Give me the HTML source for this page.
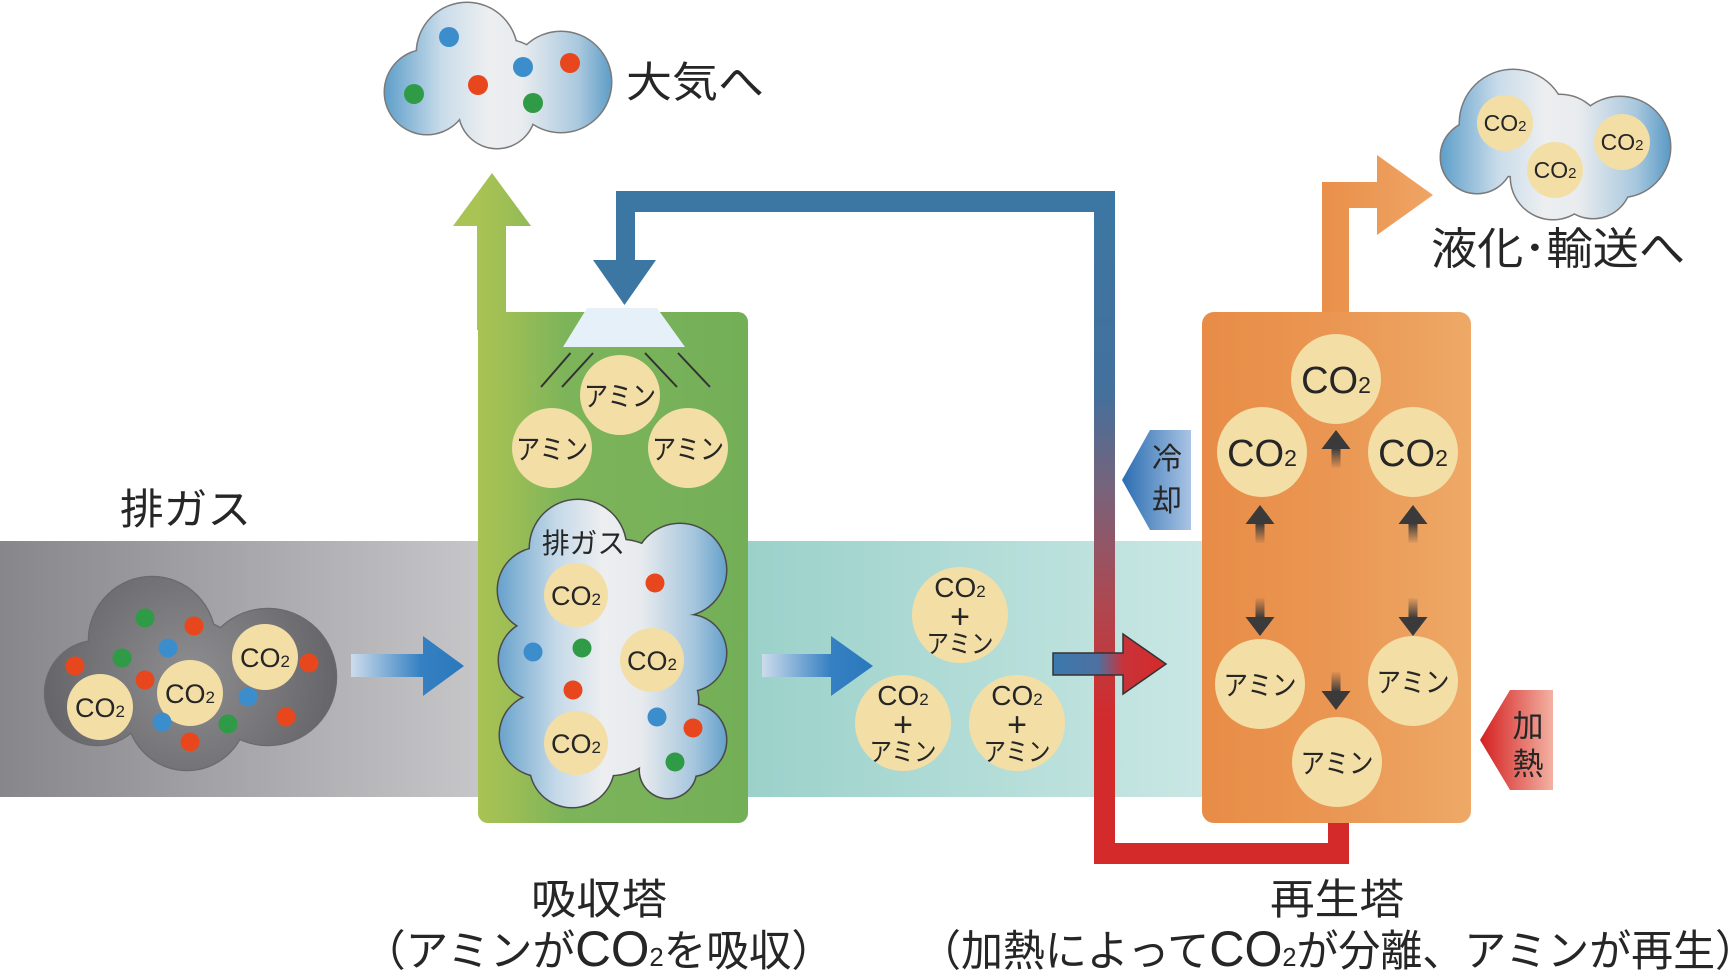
<!DOCTYPE html>
<html><head><meta charset="utf-8">
<style>
html,body{margin:0;padding:0;background:#fff;}
svg{display:block;}
text{font-family:"Liberation Sans","Noto Sans CJK JP",sans-serif;fill:#262626;}
</style></head><body>
<svg width="1733" height="974" viewBox="0 0 1733 974" xmlns="http://www.w3.org/2000/svg">
<defs>
 <linearGradient id="gGray" x1="0" y1="0" x2="478" y2="0" gradientUnits="userSpaceOnUse">
  <stop offset="0" stop-color="#87878b"/><stop offset="1" stop-color="#c6c6c9"/></linearGradient>
 <linearGradient id="gTeal" x1="748" y1="0" x2="1202" y2="0" gradientUnits="userSpaceOnUse">
  <stop offset="0" stop-color="#9bd1ca"/><stop offset="1" stop-color="#c9e7e4"/></linearGradient>
 <linearGradient id="gGreen" x1="478" y1="0" x2="748" y2="0" gradientUnits="userSpaceOnUse">
  <stop offset="0" stop-color="#a9c354"/><stop offset="0.12" stop-color="#9cbe55"/><stop offset="0.32" stop-color="#7db45a"/><stop offset="1" stop-color="#73af58"/></linearGradient>
 <linearGradient id="gOrange" x1="1202" y1="0" x2="1471" y2="0" gradientUnits="userSpaceOnUse">
  <stop offset="0" stop-color="#e88c47"/><stop offset="0.5" stop-color="#ea9753"/><stop offset="1" stop-color="#eea967"/></linearGradient>
 <linearGradient id="gOrArrow" x1="1322" y1="0" x2="1433" y2="0" gradientUnits="userSpaceOnUse">
  <stop offset="0" stop-color="#e98f4a"/><stop offset="1" stop-color="#efa565"/></linearGradient>
 <linearGradient id="gPipe" x1="0" y1="191" x2="0" y2="864" gradientUnits="userSpaceOnUse">
  <stop offset="0" stop-color="#3c77a3"/><stop offset="0.3" stop-color="#44709c"/><stop offset="0.45" stop-color="#7a6279"/><stop offset="0.62" stop-color="#b0464f"/><stop offset="0.78" stop-color="#d22b2d"/><stop offset="1" stop-color="#d42a2a"/></linearGradient>
 <linearGradient id="gBlueArrow" x1="0" y1="0" x2="1" y2="0">
  <stop offset="0" stop-color="#cddcec"/><stop offset="0.62" stop-color="#3580c2"/><stop offset="1" stop-color="#2a78bc"/></linearGradient>
 <linearGradient id="gBR" x1="1053" y1="0" x2="1166" y2="0" gradientUnits="userSpaceOnUse">
  <stop offset="0" stop-color="#3a78ae"/><stop offset="0.4" stop-color="#4f70a0"/><stop offset="0.62" stop-color="#c8333a"/><stop offset="1" stop-color="#d62a2a"/></linearGradient>
 <linearGradient id="gCool" x1="0" y1="0" x2="1" y2="0">
  <stop offset="0" stop-color="#2a6db2"/><stop offset="1" stop-color="#aac4e4"/></linearGradient>
 <linearGradient id="gHeat" x1="0" y1="0" x2="1" y2="0">
  <stop offset="0" stop-color="#d41f1f"/><stop offset="1" stop-color="#f3b2a3"/></linearGradient>
 <linearGradient id="gCloudTop" x1="385" y1="0" x2="613" y2="0" gradientUnits="userSpaceOnUse">
  <stop offset="0" stop-color="#5f9fca"/><stop offset="0.25" stop-color="#c9dcea"/><stop offset="0.45" stop-color="#eceef0"/><stop offset="0.6" stop-color="#e9ecef"/><stop offset="0.85" stop-color="#a9c8de"/><stop offset="1" stop-color="#5b9bc6"/></linearGradient>
 <linearGradient id="gCloudR" x1="1441" y1="0" x2="1670" y2="0" gradientUnits="userSpaceOnUse">
  <stop offset="0" stop-color="#5f9fca"/><stop offset="0.25" stop-color="#c9dcea"/><stop offset="0.45" stop-color="#eceef0"/><stop offset="0.6" stop-color="#e9ecef"/><stop offset="0.85" stop-color="#a9c8de"/><stop offset="1" stop-color="#5b9bc6"/></linearGradient>
 <linearGradient id="gCloudIn" x1="499" y1="0" x2="728" y2="0" gradientUnits="userSpaceOnUse">
  <stop offset="0" stop-color="#6aa3cd"/><stop offset="0.25" stop-color="#c5d9e8"/><stop offset="0.45" stop-color="#eceef0"/><stop offset="0.62" stop-color="#e8ebee"/><stop offset="0.85" stop-color="#a6c6dd"/><stop offset="1" stop-color="#629fca"/></linearGradient>
 <radialGradient id="gCloudGray" cx="190" cy="675" r="160" gradientUnits="userSpaceOnUse">
  <stop offset="0" stop-color="#8e8e91"/><stop offset="1" stop-color="#626266"/></radialGradient>
 <linearGradient id="gArrUp" x1="0" y1="0" x2="0" y2="1">
  <stop offset="0" stop-color="#3a3a3a"/><stop offset="1" stop-color="#3a3a3a" stop-opacity="0.05"/></linearGradient>
 <linearGradient id="gArrDown" x1="0" y1="0" x2="0" y2="1">
  <stop offset="0" stop-color="#3a3a3a" stop-opacity="0.05"/><stop offset="1" stop-color="#3a3a3a"/></linearGradient>
</defs>

<!-- bands -->
<rect x="0" y="541" width="478" height="256" fill="url(#gGray)"/>
<rect x="748" y="541" width="454" height="256" fill="url(#gTeal)"/>

<!-- return pipe -->
<rect x="616" y="191" width="499" height="21" fill="#3c77a3"/>
<rect x="616" y="191" width="19" height="70" fill="#3c77a3"/>
<polygon points="593,260 656,260 624.5,305" fill="#3c77a3"/>
<rect x="1094" y="191" width="21" height="673" fill="url(#gPipe)"/>
<rect x="1094" y="843" width="255" height="21" fill="#d42a2a"/>
<rect x="1328" y="812" width="21" height="52" fill="#d42a2a"/>

<!-- absorption tower -->
<polygon points="477,330 477,226 453,226 492,173 531,226 506,226 506,330" fill="url(#gGreen)"/>
<rect x="478" y="312" width="270" height="511" rx="10" fill="url(#gGreen)"/>
<rect x="478" y="312" width="28" height="20" fill="url(#gGreen)"/>
<polygon points="587,308 657,308 685,347 563,347" fill="#e6f0f8"/>
<g stroke="#333" stroke-width="2">
 <line x1="570.5" y1="353" x2="541" y2="387"/>
 <line x1="593" y1="353" x2="562" y2="387"/>
 <line x1="645" y1="353" x2="677" y2="387"/>
 <line x1="678" y1="353" x2="710" y2="387"/>
</g>
<g fill="#f3dea6">
 <circle cx="620" cy="395" r="40"/>
 <circle cx="552" cy="448" r="40"/>
 <circle cx="688" cy="448" r="40"/>
</g>
<g font-size="28" text-anchor="middle">
 <text x="620" y="406" textLength="72" lengthAdjust="spacingAndGlyphs">アミン</text>
 <text x="552" y="459" textLength="72" lengthAdjust="spacingAndGlyphs">アミン</text>
 <text x="688" y="459" textLength="72" lengthAdjust="spacingAndGlyphs">アミン</text>
</g>

<!-- inner cloud -->
<g fill="#4a4a4a" stroke="#4a4a4a" stroke-width="3">
 <circle cx="578" cy="548" r="48"/><circle cx="680" cy="570" r="46"/><circle cx="540" cy="590" r="42"/>
 <circle cx="539" cy="660" r="40"/><circle cx="541" cy="735" r="41"/><circle cx="572" cy="765" r="42"/>
 <circle cx="668" cy="770" r="28"/><circle cx="690" cy="740" r="36"/><circle cx="688" cy="653" r="38"/>
 <circle cx="620" cy="650" r="72"/><circle cx="610" cy="715" r="60"/><circle cx="620" cy="600" r="60"/>
 <circle cx="660" cy="700" r="38"/>
</g>
<g fill="url(#gCloudIn)">
 <circle cx="578" cy="548" r="48"/><circle cx="680" cy="570" r="46"/><circle cx="540" cy="590" r="42"/>
 <circle cx="539" cy="660" r="40"/><circle cx="541" cy="735" r="41"/><circle cx="572" cy="765" r="42"/>
 <circle cx="668" cy="770" r="28"/><circle cx="690" cy="740" r="36"/><circle cx="688" cy="653" r="38"/>
 <circle cx="620" cy="650" r="72"/><circle cx="610" cy="715" r="60"/><circle cx="620" cy="600" r="60"/>
 <circle cx="660" cy="700" r="38"/>
</g>
<text x="542" y="553" font-size="28" textLength="83" lengthAdjust="spacingAndGlyphs">排ガス</text>
<g fill="#f3dea6">
 <circle cx="576" cy="595" r="32"/><circle cx="652" cy="660" r="32"/><circle cx="576" cy="743" r="32"/>
</g>
<g font-size="27" text-anchor="middle">
 <text x="576" y="605">CO<tspan font-size="17">2</tspan></text>
 <text x="652" y="670">CO<tspan font-size="17">2</tspan></text>
 <text x="576" y="753">CO<tspan font-size="17">2</tspan></text>
</g>
<g>
 <circle cx="655" cy="583" r="9.5" fill="#e8471d"/>
 <circle cx="533" cy="652" r="9.5" fill="#3b8ecb"/>
 <circle cx="582" cy="648" r="9.5" fill="#2f9b46"/>
 <circle cx="573" cy="690" r="9.5" fill="#e8471d"/>
 <circle cx="657" cy="717" r="9.5" fill="#3b8ecb"/>
 <circle cx="693" cy="728" r="9.5" fill="#e8471d"/>
 <circle cx="675" cy="762" r="9.5" fill="#2f9b46"/>
</g>

<!-- gray exhaust cloud -->
<g fill="#5a5a5d" stroke="#6a6a6d" stroke-width="2.5">
 <circle cx="152" cy="640" r="63"/><circle cx="97" cy="693" r="52"/><circle cx="187" cy="710" r="60"/>
 <circle cx="268" cy="677" r="68"/><circle cx="190" cy="680" r="60"/>
</g>
<g fill="url(#gCloudGray)">
 <circle cx="152" cy="640" r="63"/><circle cx="97" cy="693" r="52"/><circle cx="187" cy="710" r="60"/>
 <circle cx="268" cy="677" r="68"/><circle cx="190" cy="680" r="60"/>
</g>
<g fill="#f3dea6">
 <circle cx="100" cy="707" r="33"/><circle cx="190" cy="693" r="33"/><circle cx="265" cy="657" r="33"/>
</g>
<g font-size="27" text-anchor="middle">
 <text x="100" y="717">CO<tspan font-size="17">2</tspan></text>
 <text x="190" y="703">CO<tspan font-size="17">2</tspan></text>
 <text x="265" y="667">CO<tspan font-size="17">2</tspan></text>
</g>
<g>
 <circle cx="145" cy="618" r="9.5" fill="#2f9b46"/>
 <circle cx="194" cy="626" r="9.5" fill="#e8471d"/>
 <circle cx="168" cy="648" r="9.5" fill="#3b8ecb"/>
 <circle cx="122" cy="658" r="9.5" fill="#2f9b46"/>
 <circle cx="75" cy="666" r="9.5" fill="#e8471d"/>
 <circle cx="145" cy="680" r="9.5" fill="#e8471d"/>
 <circle cx="248" cy="697" r="9.5" fill="#3b8ecb"/>
 <circle cx="309" cy="663" r="9.5" fill="#e8471d"/>
 <circle cx="286" cy="717" r="9.5" fill="#e8471d"/>
 <circle cx="162" cy="722" r="9.5" fill="#3b8ecb"/>
 <circle cx="228" cy="724" r="9.5" fill="#2f9b46"/>
 <circle cx="190" cy="742" r="9.5" fill="#e8471d"/>
</g>

<!-- blue flow arrows -->
<polygon points="351,654 423,654 423,636 464,666 423,696 423,677 351,677" fill="url(#gBlueArrow)"/>
<polygon points="762,654 831,654 831,636 873,666 831,696 831,677 762,677" fill="url(#gBlueArrow)"/>

<!-- CO2 + amine circles -->
<g fill="#f3dea6">
 <circle cx="960" cy="615" r="48"/><circle cx="903" cy="723" r="48"/><circle cx="1017" cy="723" r="48"/>
</g>
<g text-anchor="middle">
 <text x="960" y="597" font-size="28">CO<tspan font-size="17">2</tspan></text>
 <text x="960" y="628" font-size="34">+</text>
 <text x="960" y="653" font-size="26" textLength="67" lengthAdjust="spacingAndGlyphs">アミン</text>
 <text x="903" y="705" font-size="28">CO<tspan font-size="17">2</tspan></text>
 <text x="903" y="736" font-size="34">+</text>
 <text x="903" y="761" font-size="26" textLength="67" lengthAdjust="spacingAndGlyphs">アミン</text>
 <text x="1017" y="705" font-size="28">CO<tspan font-size="17">2</tspan></text>
 <text x="1017" y="736" font-size="34">+</text>
 <text x="1017" y="761" font-size="26" textLength="67" lengthAdjust="spacingAndGlyphs">アミン</text>
</g>

<!-- blue-red arrow -->
<polygon points="1053,653 1123,653 1123,634 1166,664 1123,694 1123,675 1053,675" fill="url(#gBR)" stroke="#333" stroke-width="1.5"/>

<!-- regeneration tower -->
<polygon points="1322,320 1322,182 1377,182 1377,155 1433,195 1377,235 1377,208 1349,208 1349,320" fill="url(#gOrArrow)"/>
<rect x="1202" y="312" width="269" height="511" rx="12" fill="url(#gOrange)"/>
<g fill="#f3dea6">
 <circle cx="1336" cy="379" r="45"/><circle cx="1262" cy="452" r="45"/><circle cx="1413" cy="452" r="45"/>
 <circle cx="1260" cy="684" r="45"/><circle cx="1413" cy="681" r="45"/><circle cx="1337" cy="762" r="45"/>
</g>
<g text-anchor="middle" font-size="38">
 <text x="1336" y="393">CO<tspan font-size="23">2</tspan></text>
 <text x="1262" y="466">CO<tspan font-size="23">2</tspan></text>
 <text x="1413" y="466">CO<tspan font-size="23">2</tspan></text>
</g>
<g text-anchor="middle" font-size="28">
 <text x="1260" y="695" textLength="73" lengthAdjust="spacingAndGlyphs">アミン</text>
 <text x="1413" y="692" textLength="73" lengthAdjust="spacingAndGlyphs">アミン</text>
 <text x="1337" y="773" textLength="73" lengthAdjust="spacingAndGlyphs">アミン</text>
</g>
<!-- small dark arrows -->
<g fill="#3a3a3a">
 <polygon points="1336,430 1350.5,449 1321.5,449"/>
 <polygon points="1260,505 1274.5,524 1245.5,524"/>
 <polygon points="1413,505 1427.5,524 1398.5,524"/>
 <polygon points="1260,636 1274.5,617 1245.5,617"/>
 <polygon points="1413,636 1427.5,617 1398.5,617"/>
 <polygon points="1336,710 1350.5,691 1321.5,691"/>
</g>
<rect x="1331.5" y="448" width="9" height="20" fill="url(#gArrUp)"/>
<rect x="1255.5" y="523" width="9" height="20" fill="url(#gArrUp)"/>
<rect x="1408.5" y="523" width="9" height="20" fill="url(#gArrUp)"/>
<rect x="1255.5" y="598" width="9" height="20" fill="url(#gArrDown)"/>
<rect x="1408.5" y="598" width="9" height="20" fill="url(#gArrDown)"/>
<rect x="1331.5" y="672" width="9" height="20" fill="url(#gArrDown)"/>

<!-- tags -->
<polygon points="1150,430 1191,430 1191,530 1150,530 1122,480" fill="url(#gCool)"/>
<text x="1167" y="469" font-size="30" text-anchor="middle" fill="#22243a">冷</text>
<text x="1167" y="511" font-size="30" text-anchor="middle" fill="#22243a">却</text>
<polygon points="1510,690 1553,690 1553,790 1510,790 1480,740" fill="url(#gHeat)"/>
<text x="1528" y="737" font-size="31" text-anchor="middle" fill="#2a1a1a">加</text>
<text x="1528" y="775" font-size="31" text-anchor="middle" fill="#2a1a1a">熱</text>

<!-- top cloud (atmosphere) -->
<g fill="#7a7a7a" stroke="#7a7a7a" stroke-width="3">
 <circle cx="427" cy="92" r="42"/><circle cx="467" cy="53" r="50"/><circle cx="561" cy="82" r="50"/>
 <circle cx="497" cy="110" r="38"/><circle cx="505" cy="85" r="45"/>
</g>
<g fill="url(#gCloudTop)">
 <circle cx="427" cy="92" r="42"/><circle cx="467" cy="53" r="50"/><circle cx="561" cy="82" r="50"/>
 <circle cx="497" cy="110" r="38"/><circle cx="505" cy="85" r="45"/>
</g>
<g>
 <circle cx="449" cy="37" r="10" fill="#3b8ecb"/>
 <circle cx="523" cy="67" r="10" fill="#3b8ecb"/>
 <circle cx="570" cy="63" r="10" fill="#e8471d"/>
 <circle cx="478" cy="85" r="10" fill="#e8471d"/>
 <circle cx="414" cy="94" r="10" fill="#2f9b46"/>
 <circle cx="533" cy="103" r="10" fill="#2f9b46"/>
</g>

<!-- top right cloud (CO2) -->
<g fill="#7a7a7a" stroke="#7a7a7a" stroke-width="3">
 <circle cx="1477" cy="157" r="36"/><circle cx="1513" cy="123" r="53"/><circle cx="1620" cy="147" r="50"/>
 <circle cx="1553" cy="177" r="42"/><circle cx="1593" cy="180" r="38"/><circle cx="1560" cy="140" r="45"/>
</g>
<g fill="url(#gCloudR)">
 <circle cx="1477" cy="157" r="36"/><circle cx="1513" cy="123" r="53"/><circle cx="1620" cy="147" r="50"/>
 <circle cx="1553" cy="177" r="42"/><circle cx="1593" cy="180" r="38"/><circle cx="1560" cy="140" r="45"/>
</g>
<g fill="#f3dea6">
 <circle cx="1505" cy="123" r="28"/><circle cx="1622" cy="142" r="28"/><circle cx="1555" cy="170" r="28"/>
</g>
<g font-size="23" text-anchor="middle">
 <text x="1505" y="131">CO<tspan font-size="15">2</tspan></text>
 <text x="1622" y="150">CO<tspan font-size="15">2</tspan></text>
 <text x="1555" y="178">CO<tspan font-size="15">2</tspan></text>
</g>

<!-- labels -->
<text x="626" y="97" font-size="42" textLength="138" lengthAdjust="spacingAndGlyphs">大気へ</text>
<text x="1431" y="264" font-size="44" textLength="254" lengthAdjust="spacingAndGlyphs">液化･輸送へ</text>
<text x="120" y="524" font-size="42" textLength="131" lengthAdjust="spacingAndGlyphs">排ガス</text>
<text x="531" y="914" font-size="42" textLength="136" lengthAdjust="spacingAndGlyphs">吸収塔</text>
<text x="363" y="966" font-size="43" textLength="471" lengthAdjust="spacingAndGlyphs">（アミンが<tspan font-size="50">CO</tspan><tspan font-size="26">2</tspan>を吸収）</text>
<text x="1270" y="914" font-size="42" textLength="134" lengthAdjust="spacingAndGlyphs">再生塔</text>
<text x="919" y="966" font-size="43" textLength="838" lengthAdjust="spacingAndGlyphs">（加熱によって<tspan font-size="50">CO</tspan><tspan font-size="26">2</tspan>が分離、アミンが再生）</text>
</svg>
</body></html>
